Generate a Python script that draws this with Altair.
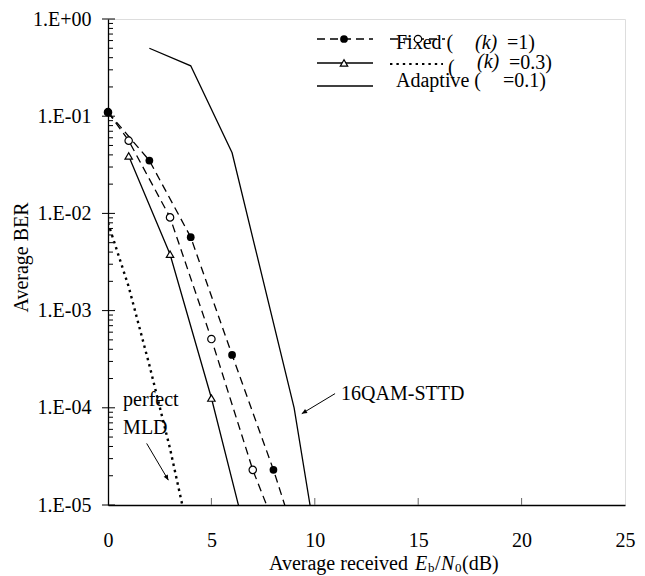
import altair as alt
import pandas as pd

# ---- data (x: Eb/N0 in dB, y: average BER) ----
snr_fixed1 = [0, 2, 4, 6, 8, 9]
ber_fixed1 = [0.11, 0.035, 0.0057, 3.5e-4, 2.3e-5, 5.0e-6]

snr_fixed03 = [0, 1, 3, 5, 7, 8]
ber_fixed03 = [0.11, 0.056, 0.0091, 5.1e-4, 2.3e-5, 6.6e-6]

snr_adapt = [1, 3, 5, 7]
ber_adapt = [0.039, 0.0038, 1.26e-4, 2.6e-6]

snr_qam = [2, 4, 6, 9, 10]
ber_qam = [0.5, 0.33, 0.042, 1.0e-4, 5.0e-6]

snr_mld = [0, 1, 2, 3, 4]
ber_mld = [0.008, 1.76e-3, 2.75e-4, 3.8e-5, 4.0e-6]

x_ticks = [0, 5, 10, 15, 20, 25]
x_inner_ticks = [5, 10, 15, 20]
y_decades = [1e-5, 1e-4, 1e-3, 1e-2, 1e-1, 1.0]
y_minor = [m * 10.0 ** k for k in range(-5, 0) for m in range(2, 10)]

ann_text = ["perfect", "MLD", "16QAM-STTD"]
ann_snr = [0.73, 0.73, 11.27]
ann_ber = [1.2e-4, 6.2e-5, 1.4e-4]

arrow_snr1 = [1.87, 10.98]
arrow_ber1 = [4.3e-5, 1.4e-4]
arrow_snr2 = [2.92, 9.37]
arrow_ber2 = [1.8e-5, 8.7e-5]
arrow_angle = [149.5, 239.0]

FONT = "Liberation Serif"
FS = 20

xs = alt.Scale(domain=[0, 25], nice=False, zero=False)
ys = alt.Scale(type="log", domain=[1e-5, 1], nice=False)

xaxis = alt.Axis(values=x_ticks, title=None, ticks=False, tickSize=0, grid=False,
                 domainColor="black", domainWidth=1.3, labelFont=FONT,
                 labelFontSize=FS, labelColor="black", labelPadding=25,
                 format="d", labelFlush=False, labelOverlap=False)
yaxis = alt.Axis(values=y_decades, title="Average BER", ticks=False, tickSize=0,
                 grid=False, domainColor="black", domainWidth=1.3,
                 labelFont=FONT, labelFontSize=FS, labelColor="black",
                 labelPadding=17, labelFlush=False, labelOverlap=False,
                 labelExpr="datum.value >= 1 ? '1.E+00' : '1.E-0' + round(-log(datum.value)/LN10)",
                 titleFont=FONT, titleFontSize=FS, titleFontWeight="normal",
                 titleColor="#000000", titleX=-87, titleY=238, titleAngle=270,
                 titleBaseline="middle", titleAlign="center")


def X(f):
    return alt.X(f, type="quantitative", scale=xs, axis=xaxis)


def Y(f):
    return alt.Y(f, type="quantitative", scale=ys, axis=yaxis)


def df(xv, yv):
    return pd.DataFrame({"snr": xv, "ber": yv})


d_f1 = df(snr_fixed1, ber_fixed1)
d_f03 = df(snr_fixed03, ber_fixed03)
d_ad = df(snr_adapt, ber_adapt)
d_qam = df(snr_qam, ber_qam)
d_mld = df(snr_mld, ber_mld)

one = pd.DataFrame({"a": [0]})
layers = []

H = 486

# axis ticks drawn inside the frame
layers.append(alt.Chart(pd.DataFrame({"v": y_minor})).mark_rule(color="black", strokeWidth=1)
              .encode(y=Y("v"), x=alt.value(0), x2=alt.value(5)))
layers.append(alt.Chart(pd.DataFrame({"v": y_decades})).mark_rule(color="black", strokeWidth=1)
              .encode(y=Y("v"), x=alt.value(-6), x2=alt.value(7)))
layers.append(alt.Chart(pd.DataFrame({"v": x_inner_ticks})).mark_rule(color="#666666", strokeWidth=1)
              .encode(x=X("v"), y=alt.value(H), y2=alt.value(H - 7)))

# curves
layers.append(alt.Chart(d_mld).mark_line(clip=True, color="black", strokeWidth=2.4, strokeDash=[2.4, 4])
              .encode(x=X("snr"), y=Y("ber")))
layers.append(alt.Chart(d_qam).mark_line(clip=True, color="black", strokeWidth=1.3)
              .encode(x=X("snr"), y=Y("ber")))
layers.append(alt.Chart(d_ad).mark_line(clip=True, color="black", strokeWidth=1.3)
              .encode(x=X("snr"), y=Y("ber")))
layers.append(alt.Chart(d_f03).mark_line(clip=True, color="black", strokeWidth=1.3, strokeDash=[8, 5])
              .encode(x=X("snr"), y=Y("ber")))
layers.append(alt.Chart(d_f1).mark_line(clip=True, color="black", strokeWidth=1.3, strokeDash=[8, 5])
              .encode(x=X("snr"), y=Y("ber")))

# markers
vis = "datum.ber >= 1e-5"
layers.append(alt.Chart(d_ad).transform_filter(vis)
              .mark_point(shape="triangle-up", size=55, filled=True, fill="white",
                          stroke="black", strokeWidth=1.2, opacity=1)
              .encode(x=X("snr"), y=Y("ber")))
layers.append(alt.Chart(d_f03).transform_filter(vis)
              .mark_point(shape="circle", size=55, filled=True, fill="white",
                          stroke="black", strokeWidth=1.2, opacity=1)
              .encode(x=X("snr"), y=Y("ber")))
layers.append(alt.Chart(d_f1).transform_filter(vis)
              .mark_point(shape="circle", size=60, filled=True, color="black", opacity=1)
              .encode(x=X("snr"), y=Y("ber")))

# annotations
ann = pd.DataFrame({"t": ann_text, "snr": ann_snr, "ber": ann_ber})
layers.append(alt.Chart(ann).mark_text(align="left", baseline="middle", font=FONT,
                                       fontSize=FS, color="black")
              .encode(x=X("snr"), y=Y("ber"), text="t:N"))
arr = pd.DataFrame({"x1": arrow_snr1, "y1": arrow_ber1, "x2": arrow_snr2,
                    "y2": arrow_ber2, "ang": arrow_angle})
layers.append(alt.Chart(arr).mark_rule(color="black", strokeWidth=1)
              .encode(x=X("x1"), y=Y("y1"), x2="x2:Q", y2="y2:Q"))
layers.append(alt.Chart(arr).mark_point(shape="M0,0L-0.45,1L0.45,1Z", size=110, filled=True,
                                        color="black", opacity=1)
              .encode(x=X("x2"), y=Y("y2"), angle=alt.Angle("ang:Q", scale=None)))


# legend (key drawn in the top-right corner of the frame)
def lrule(x1, x2, y, dash=None, width=1.3):
    kw = dict(color="black", strokeWidth=width)
    if dash:
        kw["strokeDash"] = dash
    return alt.Chart(one).mark_rule(**kw).encode(x=alt.value(x1), x2=alt.value(x2), y=alt.value(y))


def ltext(t, x, y, style="normal", size=FS):
    return alt.Chart(one).mark_text(align="left", baseline="middle", font=FONT, fontSize=size,
                                    fontStyle=style, color="black").encode(
        x=alt.value(x), y=alt.value(y), text=alt.value(t))


layers += [
    lrule(209, 265, 20, [8, 5]),
    alt.Chart(one).mark_point(shape="circle", size=60, filled=True, color="black", opacity=1)
    .encode(x=alt.value(236), y=alt.value(20)),
    ltext("Fixed (", 288, 24),
    lrule(282, 337, 20, [8, 5]),
    alt.Chart(one).mark_point(shape="circle", size=55, filled=True, fill="white", stroke="black",
                              strokeWidth=1.2, opacity=1).encode(x=alt.value(310), y=alt.value(20)),
    ltext("(k)", 367, 24, "italic"),
    ltext("=1)", 399, 24),
    lrule(209, 265, 44),
    alt.Chart(one).mark_point(shape="triangle-up", size=55, filled=True, fill="white", stroke="black",
                              strokeWidth=1.2, opacity=1).encode(x=alt.value(236), y=alt.value(44)),
    lrule(282, 335, 45, [2.4, 4], 2.2),
    ltext("(", 340, 49),
    ltext("(k)", 369, 43, "italic"),
    ltext("=0.3)", 401, 44),
    lrule(209, 265, 67),
    ltext("Adaptive (", 288, 62),
    ltext("=0.1)", 395, 62),
]

# x-axis title with italic symbols and subscripts
ty = H + 59
layers += [
    ltext("Average received ", 161, ty),
    ltext("E", 307, ty, "italic"),
    ltext("b", 320, ty + 4, size=13),
    ltext("/", 327, ty),
    ltext("N", 333, ty, "italic"),
    ltext("0", 347, ty + 4, size=13),
    ltext("(dB)", 354, ty),
]

chart = alt.layer(*layers).properties(
    width=517, height=H, autosize="none",
    padding={"left": 100, "top": 11, "right": 12, "bottom": 70},
).configure_view(stroke="#a0a0a0", strokeWidth=1).configure(background="white")

chart.save("out.html", embed_options={"renderer": "svg", "actions": False})
